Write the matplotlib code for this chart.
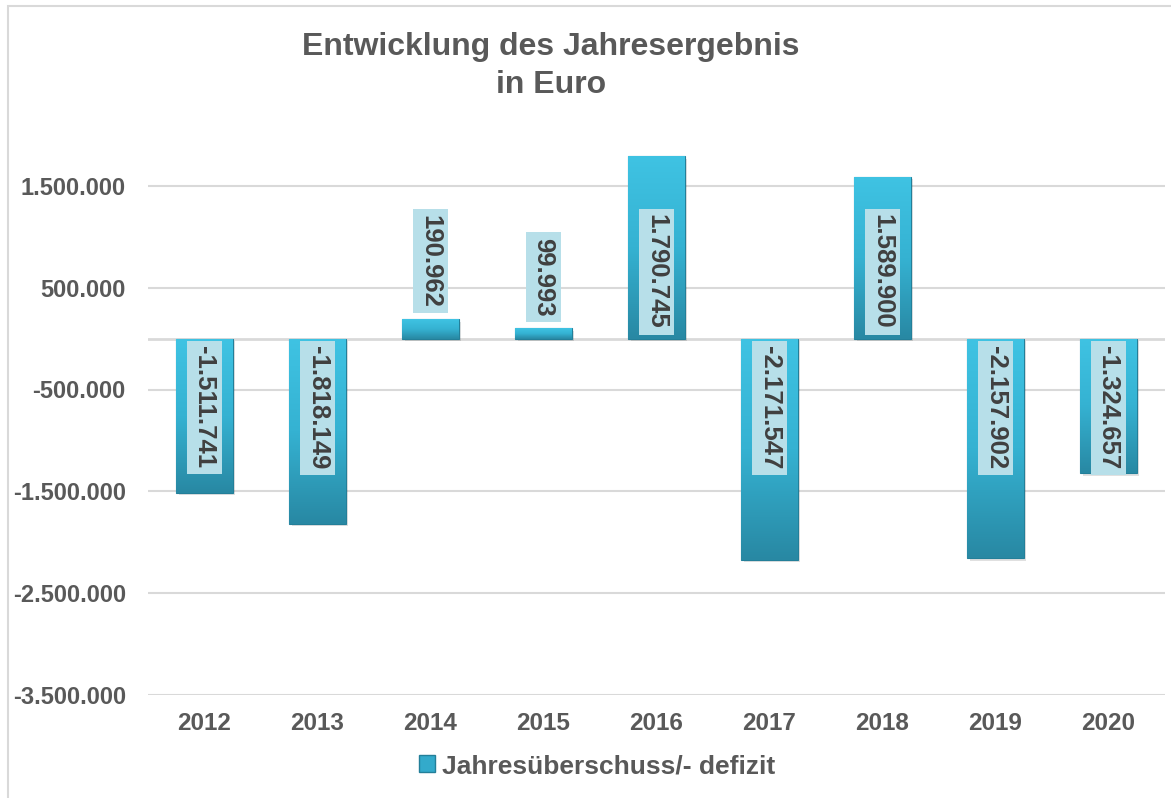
import matplotlib
matplotlib.use("Agg")
import matplotlib.pyplot as plt
import numpy as np
from matplotlib.patches import Patch, Rectangle
from matplotlib.colors import LinearSegmentedColormap

years = ["2012", "2013", "2014", "2015", "2016", "2017", "2018", "2019", "2020"]
values = [-1511741, -1818149, 190962, 99993, 1790745, -2171547, 1589900, -2157902, -1324657]
value_labels = ["-1.511.741", "-1.818.149", "190.962", "99.993", "1.790.745",
                "-2.171.547", "1.589.900", "-2.157.902", "-1.324.657"]
ytick_values = [-3500000, -2500000, -1500000, -500000, 500000, 1500000]
ytick_labels = ["-3.500.000", "-2.500.000", "-1.500.000", "-500.000", "500.000", "1.500.000"]
title = "Entwicklung des Jahresergebnis\nin Euro"
series_name = "Jahresüberschuss/- defizit"

plt.rcParams['font.family'] = ['Liberation Sans', 'DejaVu Sans']
GRAY = '#595959'

W, H = 1171, 798
fig = plt.figure(figsize=(W / 100, H / 100), dpi=100)

# chart border
fig.patches.append(Rectangle((8 / W, -0.1), 1.2, (H - 6) / H + 0.1, transform=fig.transFigure,
                             fill=False, edgecolor='#d9d9d9', linewidth=1.5))

ax_left, ax_right = 148 / W, 1165 / W
ax_bottom = (H - 695) / H
ax_top = (H - 84) / H
ax = fig.add_axes([ax_left, ax_bottom, ax_right - ax_left, ax_top - ax_bottom])

x = np.arange(len(years))
bars = ax.bar(x, values, width=0.5, color='#33aacb', edgecolor='#237f99', linewidth=0.8, zorder=3)

cmap = LinearSegmentedColormap.from_list('bar', ['#3fc3e3', '#35b2d2', '#2888a3'])
grad = np.linspace(0, 1, 256).reshape(-1, 1)
for b in bars:
    x0, y0 = b.get_x(), b.get_y()
    w, h = b.get_width(), b.get_height()
    top, bot = max(y0, y0 + h), min(y0, y0 + h)
    im = ax.imshow(grad, cmap=cmap, aspect='auto', extent=(x0, x0 + w, bot, top),
                   origin='upper', zorder=3.5)
    im.set_clip_path(b)
    ax.add_patch(Rectangle((x0 + 0.02, bot - 25000), w, top - bot, facecolor='#000000',
                           alpha=0.12, edgecolor='none', zorder=2.5))
ax.set_xlim(-0.5, len(years) - 0.5)
ax.set_ylim(-3500000, 2500000)

for xi, v, lab in zip(x, values, value_labels):
    if v < 0:
        ypos, va = -75000, 'top'
    elif v < 500000:
        ypos, va = v + 115000, 'bottom'
    else:
        ypos, va = 95000, 'bottom'
    ax.text(xi, ypos, lab, rotation=270, ha='center', va=va, fontsize=18.5, fontweight='bold',
            color='#404040', zorder=5,
            bbox=dict(boxstyle='square,pad=0.22', facecolor='#b7dfe9', edgecolor='none'))

ax.set_yticks(ytick_values)
ax.set_yticklabels(ytick_labels)
ax.set_xticks(x)
ax.set_xticklabels(years)
ax.tick_params(axis='y', length=0, pad=16, labelsize=17, labelcolor=GRAY)
ax.tick_params(axis='x', length=0, pad=12, labelsize=17.5, labelcolor=GRAY)
for lbl in ax.get_xticklabels() + ax.get_yticklabels():
    lbl.set_fontweight('bold')

ax.grid(axis='y', color='#d9d9d9', linewidth=1.5, zorder=0)
ax.axhline(0, color='#d9d9d9', linewidth=2, zorder=2)
for s in ax.spines.values():
    s.set_visible(False)

fig.text(551 / W, 1 - 66 / H, title, ha='center', va='center', fontsize=23,
         fontweight='bold', color=GRAY, linespacing=1.38)

handle = Patch(facecolor='#33aacb', edgecolor='#237f99')
fig.legend([handle], [series_name], loc='center', bbox_to_anchor=(597 / W, 1 - 766 / H),
           frameon=False, prop={'size': 19, 'weight': 'bold'}, labelcolor=GRAY,
           handlelength=0.6, handleheight=0.6, handletextpad=0.25)

fig.savefig('out.png', dpi=100)
